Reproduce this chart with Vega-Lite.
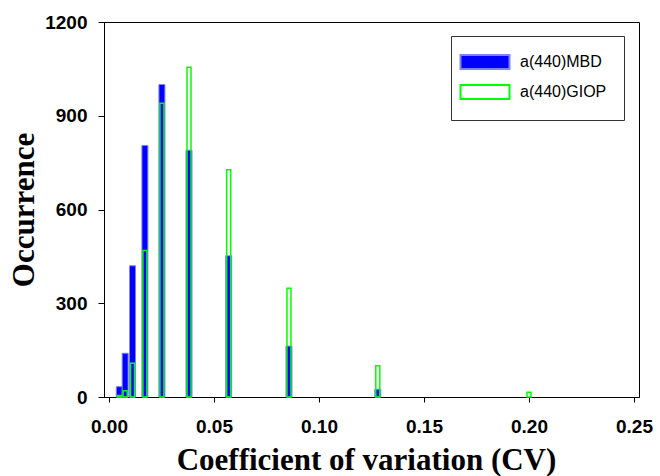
{
  "$schema": "https://vega.github.io/schema/vega-lite/v6.json",
  "width": 535,
  "height": 375,
  "autosize": "none",
  "padding": {"left": 104, "top": 22, "right": 21, "bottom": 79},
  "background": "white",
  "data": {
    "values": [
      {"series": "a(440)MBD", "cv": 0.0049, "count": 33},
      {"series": "a(440)MBD", "cv": 0.0077, "count": 140},
      {"series": "a(440)MBD", "cv": 0.0112, "count": 420},
      {"series": "a(440)MBD", "cv": 0.0171, "count": 805},
      {"series": "a(440)MBD", "cv": 0.0252, "count": 1000},
      {"series": "a(440)MBD", "cv": 0.0381, "count": 790},
      {"series": "a(440)MBD", "cv": 0.0570, "count": 452},
      {"series": "a(440)MBD", "cv": 0.0857, "count": 163},
      {"series": "a(440)MBD", "cv": 0.1280, "count": 25},
      {"series": "a(440)GIOP", "cv": 0.0049, "count": 5},
      {"series": "a(440)GIOP", "cv": 0.0077, "count": 20},
      {"series": "a(440)GIOP", "cv": 0.0112, "count": 108},
      {"series": "a(440)GIOP", "cv": 0.0171, "count": 469},
      {"series": "a(440)GIOP", "cv": 0.0252, "count": 940},
      {"series": "a(440)GIOP", "cv": 0.0381, "count": 1055},
      {"series": "a(440)GIOP", "cv": 0.0570, "count": 727},
      {"series": "a(440)GIOP", "cv": 0.0857, "count": 348},
      {"series": "a(440)GIOP", "cv": 0.1280, "count": 100},
      {"series": "a(440)GIOP", "cv": 0.2000, "count": 15}
    ]
  },
  "config": {
    "view": {"stroke": "#000", "strokeWidth": 1},
    "axis": {
      "grid": false,
      "domainColor": "#000",
      "tickColor": "#000",
      "labelColor": "#000",
      "labelFont": "Liberation Sans",
      "labelFontWeight": "bold",
      "labelFontSize": 19,
      "titleColor": "#000",
      "titleFont": "Liberation Serif",
      "titleFontWeight": "bold",
      "titleFontSize": 31
    },
    "legend": {
      "orient": "none",
      "legendX": 347,
      "legendY": 14,
      "strokeColor": "#333",
      "fillColor": "white",
      "padding": 17,
      "rowPadding": 8,
      "symbolType": "M-2.06,-0.875H4.06V0.875H-2.06Z",
      "symbolSize": 256,
      "symbolStrokeWidth": 2,
      "labelFont": "Liberation Sans",
      "labelFontSize": 16,
      "labelColor": "#000",
      "labelOffset": 34
    }
  },
  "encoding": {
    "x": {
      "field": "cv",
      "type": "quantitative",
      "scale": {"domain": [0, 0.25], "nice": false, "zero": false},
      "axis": {
        "title": "Coefficient of variation (CV)",
        "values": [0, 0.05, 0.1, 0.15, 0.2, 0.25],
        "format": ".2f",
        "tickSize": 5,
        "labelPadding": 15,
        "titleX": 262,
        "titleY": 72,
        "titleBaseline": "alphabetic"
      }
    },
    "y": {
      "field": "count",
      "type": "quantitative",
      "scale": {"domain": [0, 1200], "nice": false},
      "axis": {
        "title": "Occurrence",
        "values": [0, 300, 600, 900, 1200],
        "format": "d",
        "tickSize": 6,
        "labelPadding": 11,
        "titleAngle": -90,
        "titleX": -71,
        "titleY": 187.5,
        "titleBaseline": "alphabetic",
        "titleAlign": "center"
      }
    },
    "fill": {
      "field": "series",
      "type": "nominal",
      "scale": {"domain": ["a(440)MBD", "a(440)GIOP"], "range": ["#0000ff", "transparent"]},
      "legend": {"title": null}
    },
    "stroke": {
      "field": "series",
      "type": "nominal",
      "scale": {"domain": ["a(440)MBD", "a(440)GIOP"], "range": ["#8080ff", "#00ff00"]},
      "legend": {"title": null}
    }
  },
  "layer": [
    {
      "transform": [{"filter": "datum.series === 'a(440)MBD'"}],
      "mark": {"type": "bar", "orient": "vertical", "size": 6, "strokeWidth": 1}
    },
    {
      "transform": [{"filter": "datum.series === 'a(440)GIOP'"}],
      "mark": {"type": "bar", "orient": "vertical", "size": 4, "strokeWidth": 1.5}
    }
  ]
}
